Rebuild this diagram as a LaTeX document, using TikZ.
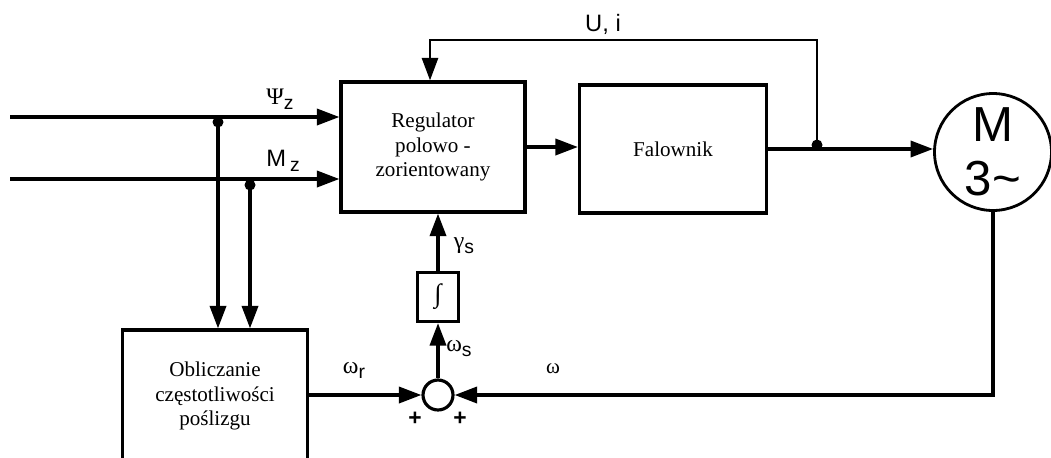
\documentclass[tikz,border=0pt]{standalone}
\usepackage{fontspec}
\setmainfont{Liberation Serif}
\setsansfont{Liberation Sans}
\usetikzlibrary{positioning,arrows.meta,calc}
\newcommand{\ind}[1]{\raisebox{-0.4ex}{\fontsize{11}{11}\selectfont #1}}

\begin{document}
\begin{tikzpicture}[x=0.02cm, y=-0.02cm,
        blok/.style={draw, line width=1.8pt, align=center, inner sep=0pt, font=\fontsize{12}{13.8}\selectfont},
        sygnal/.style={line width=2pt, -{Triangle[length=0.45cm, width=0.32cm]}},
        etyk/.style={font=\sffamily\fontsize{13.5}{15}\selectfont, inner sep=0pt},
        wezel/.style={circle, fill, inner sep=0pt, minimum size=0.22cm}]
        \useasboundingbox (0,0) rectangle (1051,457);
        \clip (0,0) rectangle (1051,457);

        % Bloki
        \node[blok, minimum width=3.68cm, minimum height=2.6cm] (reg) at (433,147) {Regulator\\polowo -\\zorientowany};
        \node[blok, minimum width=3.74cm, minimum height=2.56cm] (fal) at (673,149) {Falownik};
        \node[blok, minimum width=3.7cm, minimum height=2.64cm] (obl) at (215,396) {Obliczanie\\częstotliwości\\poślizgu};
        \node[blok, minimum width=0.82cm, minimum height=0.98cm, font=\fontsize{15}{15}\selectfont] (calka) at (438,297) {∫};
        \node[draw, circle, line width=1.8pt, minimum size=0.6cm, inner sep=0pt] (sum) at (438,395) {};
        \node[draw, circle, line width=1.6pt, minimum size=2.34cm, inner sep=0pt, align=center,
              font=\sffamily\fontsize{28}{30.5}\selectfont] (motor) at (993,152) {M\\3\textasciitilde};

        % Punkty pomocnicze
        \coordinate (psi) at (10,117);
        \coordinate (mz) at (10,179);
        \coordinate (j1) at (218,117);
        \coordinate (j2) at (250,179);
        \coordinate (j3) at (817,149);
        \coordinate (ui) at (430,40);

        % Wejscia
        \draw[sygnal] (psi) -- (psi -| reg.west);
        \draw[sygnal] (mz) -- (mz -| reg.west);
        \draw[sygnal] (j1) -- (j1 |- obl.north);
        \draw[sygnal] (j2) -- (j2 |- obl.north);
        \node[wezel] (k1) at ($(j1)+(0,5)$) {};
        \node[wezel] (k2) at ($(j2)+(0,6)$) {};

        % Tor glowny
        \draw[sygnal] (reg.east) -- (reg.east -| fal.west);
        \draw[sygnal] (fal.east) -- (fal.east -| motor.west);
        \node[wezel] (k3) at ($(j3)+(0,-4)$) {};
        \draw[line width=1.5pt, -{Triangle[length=0.45cm, width=0.32cm]}] (j3) |- (ui) -- (ui |- reg.north);

        % Sprzezenie od predkosci
        \draw[sygnal] (motor.south) |- (sum.east);
        \draw[sygnal] (sum.west -| obl.east) -- (sum.west);
        \draw[sygnal] (sum.north) -- (calka.south);
        \draw[sygnal] (calka.north) -- (calka.north |- reg.south);

        % Opisy
        \node[etyk] (lpsi) at (280,99) {{\rmfamily Ψ}\ind{z}};
        \node[etyk] (lmz) at (283,161) {M\,\ind{z}};
        \node[etyk] (lui) at (603,24) {U, i};
        \node[etyk] (lgs) at (464,246) {{\rmfamily γ}\ind{s}};
        \node[etyk] (lws) at (459,349) {{\rmfamily ω}\ind{s}};
        \node[etyk] (lwr) at (354,370) {{\rmfamily ω}\ind{r}};
        \node[font=\fontsize{12}{13}\selectfont, inner sep=0pt] (lw) at (553,369) {ω};
        \node[etyk, font=\sffamily\bfseries\fontsize{13}{14}\selectfont] (p1) at (415,419) {+};
        \node[etyk, font=\sffamily\bfseries\fontsize{13}{14}\selectfont] (p2) at (460,419) {+};
\end{tikzpicture}
\end{document}
